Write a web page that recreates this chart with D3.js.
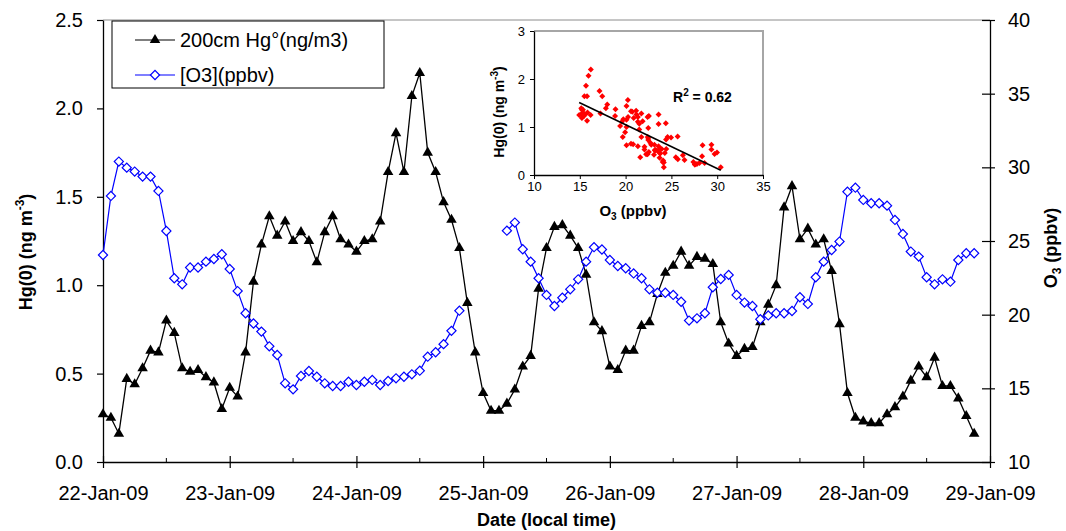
<!DOCTYPE html>
<html>
<head>
<meta charset="utf-8">
<script src="https://cdn.jsdelivr.net/npm/d3@7"></script>
<style>
  body { margin: 0; background: #fff; }
  svg { display: block; font-family: "Liberation Sans", Arial, sans-serif; }
</style>
</head>
<body>
<div id="chart"></div>
<script>
// sampling: one reading every 1.5 h starting 22-Jan-09 00:00
const startTime = new Date(2009, 0, 22, 0, 0);
const stepMinutes = 90;

// 200cm Hg(0), ng/m3
const hgValues = [
  0.27, 0.25, 0.16, 0.47, 0.44, 0.53, 0.63, 0.62, 0.80, 0.73,
  0.53, 0.51, 0.52, 0.48, 0.45, 0.30, 0.42, 0.37, 0.62, 1.02,
  1.23, 1.39, 1.28, 1.36, 1.25, 1.30, 1.25, 1.13, 1.30, 1.39,
  1.26, 1.23, 1.19, 1.25, 1.26, 1.36, 1.64, 1.86, 1.64, 2.07,
  2.20, 1.75, 1.64, 1.47, 1.37, 1.21, 0.90, 0.62, 0.39, 0.29,
  0.29, 0.33, 0.41, 0.54, 0.60, 0.98, 1.21, 1.33, 1.34, 1.28,
  1.21, 1.06, 0.79, 0.74, 0.54, 0.52, 0.63, 0.63, 0.77, 0.79,
  0.95, 1.07, 1.11, 1.19, 1.11, 1.16, 1.15, 1.12, 0.79, 0.67,
  0.60, 0.64, 0.65, 0.79, 0.89, 1.00, 1.44, 1.56, 1.26, 1.32,
  1.23, 1.26, 1.08, 0.78, 0.39, 0.25, 0.23, 0.22, 0.22, 0.27,
  0.31, 0.37, 0.46, 0.54, 0.48, 0.59, 0.43, 0.43, 0.36, 0.26,
  0.16
];

// O3, ppbv (null = no data)
const o3Values = [
  24.05, 28.06, 30.39, 29.98, 29.71, 29.37, 29.37, 28.40, 25.68, 22.47,
  22.06, 23.20, 23.20, 23.60, 23.78, 24.10, 23.10, 21.60, 20.10, 19.40,
  18.85, 17.85, 17.26, 15.34, 14.93, 15.84, 16.18, 15.79, 15.34, 15.16,
  15.16, 15.45, 15.23, 15.45, 15.57, 15.23, 15.50, 15.68, 15.79, 15.95,
  16.20, 17.15, 17.45, 18.00, 18.90, 20.27, null, null, null, null,
  null, 25.70, 26.25, 24.44, 23.60, 22.47, 21.34, 20.59, 21.15, 21.72,
  22.40, 23.60, 24.58, 24.42, 23.71, 23.30, 23.15, 22.80, 22.47, 21.72,
  21.49, 21.49, 21.34, 20.88, 19.60, 19.75, 20.10, 21.86, 22.42, 22.70,
  21.34, 20.82, 20.59, 19.69, 19.95, 20.10, 20.10, 20.25, 21.18, 20.73,
  22.54, 23.60, 24.39, 24.96, 28.35, 28.62, 27.79, 27.56, 27.56, 27.40,
  26.43, 25.48, 24.28, 23.94, 22.54, 22.06, 22.40, 22.24, 23.71, 24.17,
  24.17
];

// axis ticks
const hgTicks = [0, 0.5, 1.0, 1.5, 2.0, 2.5];
const o3Ticks = [10, 15, 20, 25, 30, 35, 40];
const insetXTicks = [10, 15, 20, 25, 30, 35];
const insetYTicks = [0, 1, 2, 3];
const legendLabels = ['200cm Hg°(ng/m3)', '[O3](ppbv)'];
const r2Text = ' = 0.62';

const width = 1066;
const height = 531;
const margin = { top: 20, right: 76, bottom: 69, left: 103 };

const svg = d3.select('#chart')
    .append('svg')
    .attr('width', width)
    .attr('height', height);

// build time series
const hgData = hgValues.map((v, i) => ({ time: d3.timeMinute.offset(startTime, i * stepMinutes), value: v }));
const o3Data = o3Values.map((v, i) => ({ time: d3.timeMinute.offset(startTime, i * stepMinutes), value: v }));

// scales
const x = d3.scaleTime()
    .domain([new Date(2009, 0, 22), new Date(2009, 0, 29)])
    .range([margin.left, width - margin.right]);
const yHg = d3.scaleLinear()
    .domain([0, 2.5])
    .range([height - margin.bottom, margin.top]);
const yO3 = d3.scaleLinear()
    .domain([10, 40])
    .range([height - margin.bottom, margin.top]);

const plotBottom = height - margin.bottom;
const plotRight = width - margin.right;

// gray top border of plot
svg.append('line')
    .attr('x1', margin.left).attr('x2', plotRight)
    .attr('y1', margin.top).attr('y2', margin.top)
    .attr('stroke', '#8c8c8c')
    .attr('stroke-width', 1);

// x axis
const xAxis = svg.append('g')
    .attr('transform', `translate(0,${plotBottom})`)
    .call(d3.axisBottom(x)
        .ticks(d3.timeDay.every(1))
        .tickFormat(d3.timeFormat('%d-%b-%y'))
        .tickSizeOuter(0)
        .tickSizeInner(6));
xAxis.selectAll('.tick line').attr('y1', -6).attr('y2', 6);
xAxis.selectAll('.tick text')
    .attr('y', 24)
    .style('font-size', '20px');

// minor ticks at noon
svg.append('g')
    .selectAll('line')
    .data(d3.timeHour.range(new Date(2009, 0, 22, 12), new Date(2009, 0, 29), 24))
    .enter()
    .append('line')
    .attr('x1', d => x(d)).attr('x2', d => x(d))
    .attr('y1', plotBottom).attr('y2', plotBottom - 4)
    .attr('stroke', '#000');

// left axis
const leftAxis = svg.append('g')
    .attr('transform', `translate(${margin.left},0)`)
    .call(d3.axisLeft(yHg)
        .tickValues(hgTicks)
        .tickFormat(d3.format('.1f'))
        .tickSizeOuter(0)
        .tickSizeInner(6)
        .tickPadding(14));
leftAxis.selectAll('.tick text').style('font-size', '20px');

// right axis
const rightAxis = svg.append('g')
    .attr('transform', `translate(${plotRight},0)`)
    .call(d3.axisRight(yO3)
        .tickValues(o3Ticks)
        .tickSizeOuter(0)
        .tickSizeInner(5)
        .tickPadding(13));
rightAxis.selectAll('.tick line').attr('x1', -8);
rightAxis.selectAll('.tick text').style('font-size', '20px');

[xAxis, leftAxis, rightAxis].forEach(a => {
    a.select('.domain').attr('stroke', '#000').attr('stroke-width', 1.3);
    a.selectAll('.tick line').attr('stroke', '#000').attr('stroke-width', 1.2);
    a.selectAll('.tick text').attr('fill', '#000');
});

// axis titles
svg.append('text')
    .attr('x', (margin.left + plotRight) / 2)
    .attr('y', 526)
    .attr('text-anchor', 'middle')
    .style('font-size', '18px')
    .style('font-weight', 'bold')
    .text('Date (local time)');

const leftTitle = svg.append('text')
    .attr('transform', 'translate(32,252) rotate(-90)')
    .attr('text-anchor', 'middle')
    .style('font-size', '18px')
    .style('font-weight', 'bold');
leftTitle.append('tspan').text('Hg(0) (ng m');
leftTitle.append('tspan').attr('dy', -8).style('font-size', '12px').text('-3');
leftTitle.append('tspan').attr('dy', 8).text(')');

const rightTitle = svg.append('text')
    .attr('transform', 'translate(1057,248) rotate(-90)')
    .attr('text-anchor', 'middle')
    .style('font-size', '18px')
    .style('font-weight', 'bold');
rightTitle.append('tspan').text('O');
rightTitle.append('tspan').attr('dy', 4).style('font-size', '12px').text('3');
rightTitle.append('tspan').attr('dy', -4).text(' (ppbv)');

// series lines
const hgLine = d3.line()
    .x(d => x(d.time))
    .y(d => yHg(d.value));
const o3Line = d3.line()
    .defined(d => d.value != null)
    .x(d => x(d.time))
    .y(d => yO3(d.value));

svg.append('path')
    .datum(hgData)
    .attr('d', hgLine)
    .attr('fill', 'none')
    .attr('stroke', '#000')
    .attr('stroke-width', 1.3);

const triangle = d3.symbol().type(d3.symbolTriangle).size(48);
const diamond = d3.symbol().type(d3.symbolSquare).size(42);

svg.append('g')
    .selectAll('path')
    .data(hgData)
    .enter()
    .append('path')
    .attr('d', triangle)
    .attr('transform', d => `translate(${x(d.time)},${yHg(d.value)})`)
    .attr('fill', '#000');

svg.append('path')
    .datum(o3Data)
    .attr('d', o3Line)
    .attr('fill', 'none')
    .attr('stroke', '#0000ff')
    .attr('stroke-width', 1.2);

svg.append('g')
    .selectAll('path')
    .data(o3Data.filter(d => d.value != null))
    .enter()
    .append('path')
    .attr('d', diamond)
    .attr('transform', d => `translate(${x(d.time)},${yO3(d.value)}) rotate(45)`)
    .attr('fill', '#fff')
    .attr('stroke', '#0000ff')
    .attr('stroke-width', 1.2);

// legend
const legend = svg.append('g');
legend.append('rect')
    .attr('x', 112).attr('y', 21)
    .attr('width', 272).attr('height', 67)
    .attr('fill', '#fff')
    .attr('stroke', '#000')
    .attr('stroke-width', 1);

const legendItems = [
    { label: legendLabels[0], color: '#000', y: 40, symbol: triangle, fill: '#000', rot: 0 },
    { label: legendLabels[1], color: '#0000ff', y: 75, symbol: diamond, fill: '#fff', rot: 45 }
];
legendItems.forEach(item => {
    legend.append('line')
        .attr('x1', 135).attr('x2', 175)
        .attr('y1', item.y).attr('y2', item.y)
        .attr('stroke', item.color)
        .attr('stroke-width', 1.2);
    legend.append('path')
        .attr('d', item.symbol)
        .attr('transform', `translate(155,${item.y}) rotate(${item.rot})`)
        .attr('fill', item.fill)
        .attr('stroke', item.rot ? item.color : 'none')
        .attr('stroke-width', 1.2);
    legend.append('text')
        .attr('x', 180)
        .attr('y', item.y + 7)
        .style('font-size', '20px')
        .text(item.label);
});

// ---- inset scatter: Hg vs O3 ----
const ix = d3.scaleLinear().domain([10, 35]).range([534, 763]);
const iy = d3.scaleLinear().domain([0, 3]).range([175, 31]);

const pairs = hgValues
    .map((v, i) => ({ o3: o3Values[i], hg: v }))
    .filter(d => d.o3 != null);

// inset frame (gray top and right)
svg.append('path')
    .attr('d', `M${ix(10)},${iy(3)}H${ix(35)}V${iy(0)}`)
    .attr('fill', 'none')
    .attr('stroke', '#a6a6a6')
    .attr('stroke-width', 2);

const insetX = svg.append('g')
    .attr('transform', `translate(0,${iy(0)})`)
    .call(d3.axisBottom(ix).tickValues(insetXTicks).tickSizeOuter(0).tickSizeInner(4).tickPadding(3));
const insetY = svg.append('g')
    .attr('transform', `translate(${ix(10)},0)`)
    .call(d3.axisLeft(iy).tickValues(insetYTicks).tickFormat(d3.format('d'))
        .tickSizeOuter(0).tickSizeInner(4).tickPadding(5));
[insetX, insetY].forEach(a => {
    a.select('.domain').attr('stroke', '#000').attr('stroke-width', 1.3);
    a.selectAll('.tick line').attr('stroke', '#000');
    a.selectAll('.tick text').attr('fill', '#000').style('font-size', '13px');
});

// regression line
const mx = d3.mean(pairs, d => d.o3);
const my = d3.mean(pairs, d => d.hg);
const slope = d3.sum(pairs, d => (d.o3 - mx) * (d.hg - my)) / d3.sum(pairs, d => (d.o3 - mx) ** 2);
const intercept = my - slope * mx;
const xr = d3.extent(pairs, d => d.o3);

svg.append('g')
    .selectAll('path')
    .data(pairs)
    .enter()
    .append('path')
    .attr('d', d3.symbol().type(d3.symbolSquare).size(18))
    .attr('transform', d => `translate(${ix(d.o3)},${iy(d.hg)}) rotate(45)`)
    .attr('fill', '#ff0000');

svg.append('line')
    .attr('x1', ix(xr[0])).attr('y1', iy(intercept + slope * xr[0]))
    .attr('x2', ix(xr[1])).attr('y2', iy(intercept + slope * xr[1]))
    .attr('stroke', '#000')
    .attr('stroke-width', 1.5);

const r2 = svg.append('text')
    .attr('x', 673).attr('y', 102)
    .style('font-size', '14px')
    .style('font-weight', 'bold');
r2.append('tspan').text('R');
r2.append('tspan').attr('dy', -6).style('font-size', '10px').text('2');
r2.append('tspan').attr('dy', 6).text(r2Text);

const insetXTitle = svg.append('text')
    .attr('x', 633).attr('y', 216)
    .attr('text-anchor', 'middle')
    .style('font-size', '15px')
    .style('font-weight', 'bold');
insetXTitle.append('tspan').text('O');
insetXTitle.append('tspan').attr('dy', 4).style('font-size', '10px').text('3');
insetXTitle.append('tspan').attr('dy', -4).text(' (ppbv)');

const insetYTitle = svg.append('text')
    .attr('transform', 'translate(504,112) rotate(-90)')
    .attr('text-anchor', 'middle')
    .style('font-size', '14px')
    .style('font-weight', 'bold');
insetYTitle.append('tspan').text('Hg(0) (ng m');
insetYTitle.append('tspan').attr('dy', -6).style('font-size', '10px').text('-3');
insetYTitle.append('tspan').attr('dy', 6).text(')');
</script>
</body>
</html>
